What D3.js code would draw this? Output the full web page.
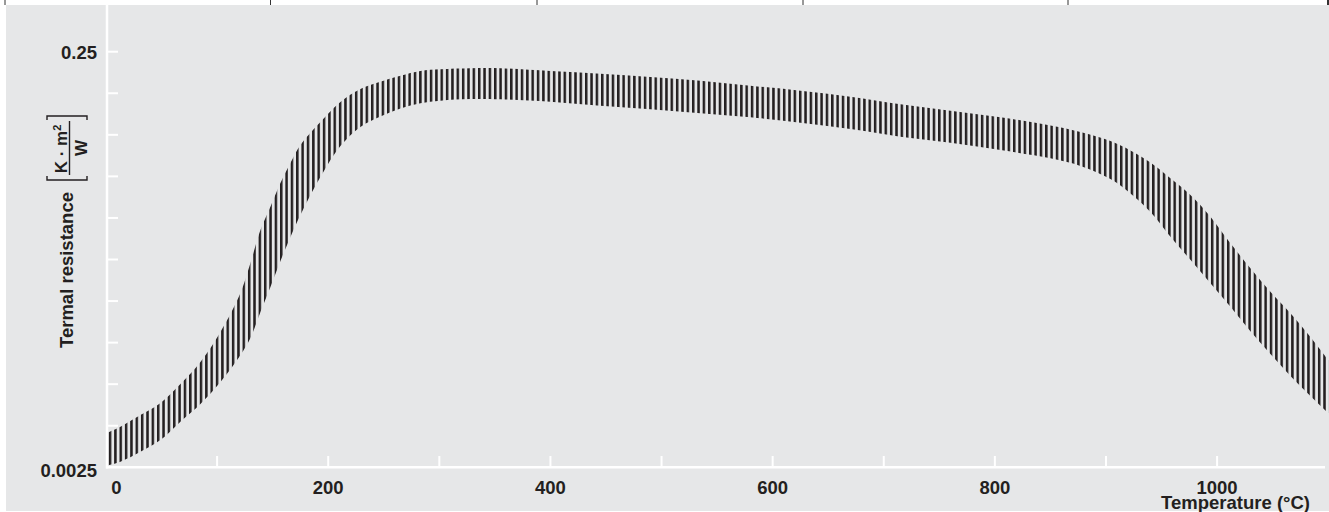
<!DOCTYPE html>
<html>
<head>
<meta charset="utf-8">
<script src="https://cdn.jsdelivr.net/npm/d3@7"></script>
<style>
  html, body { margin: 0; padding: 0; background: #ffffff; }
  svg { display: block; }
  text { font-family: "Liberation Sans", Arial, Helvetica, sans-serif; font-weight: bold; fill: #231f20; }
</style>
</head>
<body>
<svg id="chart" width="1329" height="512"></svg>
<script>
// ---- data ----
const temps = [0, 13, 31, 49, 67, 85, 103, 121, 130, 139, 148, 157, 166, 175, 193, 211, 229, 247, 265, 283, 301,
  328, 355, 400, 445, 490, 535, 580, 625, 670, 715, 760, 805, 850, 877, 904,
  922, 940, 958, 976, 994, 1012, 1030, 1048, 1066, 1084, 1100];
const upperR = [0.00364, 0.00392, 0.00446, 0.00510, 0.00629, 0.00803, 0.01120, 0.01725, 0.02405, 0.03467, 0.04489,
  0.05836, 0.07283, 0.0889, 0.1147, 0.1432, 0.1654, 0.1793, 0.1916, 0.2019, 0.2057,
  0.2080, 0.2080, 0.2019, 0.1959, 0.1889, 0.1813, 0.1715, 0.1623, 0.1518, 0.1396, 0.1300, 0.1209, 0.1104, 0.1027, 0.0929,
  0.0837, 0.0732, 0.0615, 0.0511, 0.0402, 0.0299, 0.0227, 0.0175, 0.0138, 0.0106, 0.0082];
const lowerR = [0.00254, 0.00266, 0.00297, 0.00338, 0.00414, 0.00504, 0.00643, 0.00868, 0.01048, 0.01398, 0.01843,
  0.02459, 0.03208, 0.04094, 0.0624, 0.0879, 0.1086, 0.1220, 0.1332, 0.1412, 0.1453,
  0.1480, 0.1476, 0.1437, 0.1374, 0.1321, 0.1263, 0.1209, 0.1138, 0.1062, 0.0975, 0.0912, 0.0841, 0.0767, 0.0705, 0.0610,
  0.0520, 0.0423, 0.0322, 0.0249, 0.0192, 0.0148, 0.0113, 0.00877, 0.00688, 0.00551, 0.00456];

const xTickValues = [100, 200, 300, 400, 500, 600, 700, 800, 900, 1000];
const xLabelValues = [0, 200, 400, 600, 800, 1000];
const xLabels = ["0", "200", "400", "600", "800", "1000"];
const yTickValues = [0.0025, 0.003962, 0.006280, 0.009953, 0.015774, 0.025, 0.039622, 0.062797, 0.099526, 0.157739, 0.25];
const yLabelValues = [0.25, 0.0025];
const yLabels = ["0.25", "0.0025"];
const xTitle = "Temperature (°C)";
const yTitle = "Termal resistance";

// ---- layout ----
const svg = d3.select("#chart");
const ink = "#231f20";
const bg = "#e6e7e8";

const x = d3.scaleLinear().domain([0, 1100]).range([106, 1328.2]);
const y = d3.scaleLog().domain([0.0025, 0.25]).range([467.3, 51.7]);

// top table strip lines
[5, 270.5, 537, 803, 1068, 1328].forEach((px, i) => {
  svg.append("line").attr("x1", px).attr("x2", px).attr("y1", 0).attr("y2", 5)
    .attr("stroke", "#333").attr("stroke-width", i === 5 ? 2 : 1);
});

// background panel
svg.append("rect").attr("x", 6).attr("y", 5).attr("width", 1323).attr("height", 506).attr("fill", bg);

// hatch pattern
const defs = svg.append("defs");
const pat = defs.append("pattern").attr("id", "hatch").attr("patternUnits", "userSpaceOnUse")
  .attr("x", 108.8).attr("y", 0).attr("width", 5.35).attr("height", 20);
pat.append("rect").attr("x", 0).attr("y", 0).attr("width", 2.5).attr("height", 20).attr("fill", ink);

// band
const band = temps.map((t, i) => ({ t, lo: lowerR[i], hi: upperR[i] }));
const area = d3.area()
  .x(d => x(d.t))
  .y0(d => y(d.lo))
  .y1(d => y(d.hi))
  .curve(d3.curveCatmullRom.alpha(0.5));
svg.append("path").datum(band).attr("d", area).attr("fill", "url(#hatch)");

// axes (white)
const axisCol = "#ffffff";
svg.append("line").attr("x1", 107).attr("x2", 107).attr("y1", 5).attr("y2", 468.5)
  .attr("stroke", axisCol).attr("stroke-width", 2.5);
svg.append("line").attr("x1", 106).attr("x2", 1325).attr("y1", 467.3).attr("y2", 467.3)
  .attr("stroke", axisCol).attr("stroke-width", 2.5);

svg.append("g").selectAll("line").data(yTickValues.slice(1)).join("line")
  .attr("x1", 107).attr("x2", 118).attr("y1", d => y(d)).attr("y2", d => y(d))
  .attr("stroke", axisCol).attr("stroke-width", 2);

svg.append("g").selectAll("line").data(xTickValues).join("line")
  .attr("x1", d => x(d)).attr("x2", d => x(d)).attr("y1", 467.3).attr("y2", 456)
  .attr("stroke", axisCol).attr("stroke-width", 2);

// tick labels
svg.append("g").selectAll("text").data(yLabelValues).join("text")
  .attr("x", 97).attr("y", (d, i) => y(d) + (i === 0 ? 7 : 9.3))
  .attr("text-anchor", "end").attr("font-size", 18.5)
  .text((d, i) => yLabels[i]);

svg.append("g").selectAll("text").data(xLabelValues).join("text")
  .attr("x", (d, i) => i === 0 ? 116.5 : x(d)).attr("y", 494)
  .attr("text-anchor", "middle").attr("font-size", 18.5)
  .text((d, i) => xLabels[i]);

// x title
svg.append("text").attr("x", 1310).attr("y", 508.5).attr("text-anchor", "end")
  .attr("font-size", 18.5).text(xTitle);

// y title with bracketed unit fraction
const yt = svg.append("g").attr("transform", "translate(73,348) rotate(-90)");
yt.append("text").attr("x", 0).attr("y", 0).attr("font-size", 18.5).text(yTitle);
yt.append("path").attr("d", "M172,-26H168V14H172").attr("fill", "none").attr("stroke", ink).attr("stroke-width", 1.4);
yt.append("path").attr("d", "M228,-26H232V14H228").attr("fill", "none").attr("stroke", ink).attr("stroke-width", 1.4);
const num = yt.append("text").attr("x", 199).attr("y", -6).attr("text-anchor", "middle").attr("font-size", 17);
num.append("tspan").text("K · m");
num.append("tspan").attr("dy", -6.5).attr("font-size", 11).text("2");
yt.append("line").attr("x1", 173).attr("x2", 227).attr("y1", -3.5).attr("y2", -3.5).attr("stroke", ink).attr("stroke-width", 1.4);
yt.append("text").attr("x", 200).attr("y", 13.5).attr("text-anchor", "middle").attr("font-size", 17).text("W");
</script>
</body>
</html>
